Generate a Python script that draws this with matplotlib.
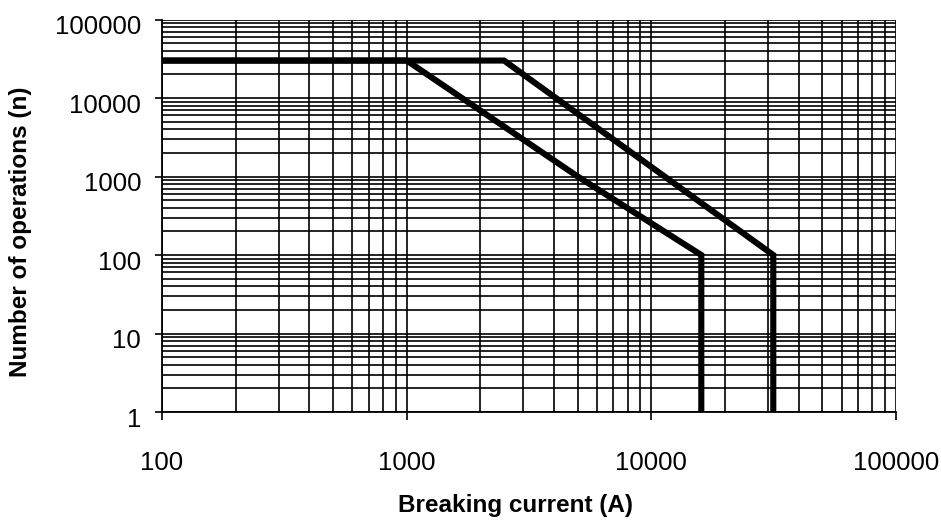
import numpy as np
import matplotlib
matplotlib.use("Agg")
import matplotlib.pyplot as plt
import matplotlib.transforms as mtransforms
from matplotlib.ticker import LogLocator, FixedLocator, NullFormatter

plt.rcParams['font.family'] = ['Liberation Sans', 'DejaVu Sans']

# breaker curves (current in A, number of operations)
curve_a_current = [100, 1000, 5000, 16000, 16000]
curve_a_ops = [30000, 30000, 1000, 100, 1]
curve_b_current = [100, 2500, 31500, 31500]
curve_b_ops = [30000, 30000, 100, 1]

x_ticks = [100, 1000, 10000, 100000]
y_ticks = [1, 10, 100, 1000, 10000, 100000]

fig = plt.figure(figsize=(9.41, 5.23), dpi=100)
ax = fig.add_axes([0.1722, 0.2122, 0.7800, 0.7505])

ax.set_xscale('log')
ax.set_yscale('log')
ax.set_xlim(100, 100000)
ax.set_ylim(1, 100000)

# grid first, curves on top
ax.xaxis.set_major_locator(FixedLocator(x_ticks))
ax.yaxis.set_major_locator(FixedLocator(y_ticks))
ax.xaxis.set_minor_locator(LogLocator(base=10, subs=np.arange(2, 10)))
ax.yaxis.set_minor_locator(LogLocator(base=10, subs=np.arange(2, 10)))
ax.xaxis.set_minor_formatter(NullFormatter())
ax.yaxis.set_minor_formatter(NullFormatter())
ax.set_xticklabels([str(v) for v in x_ticks])
ax.set_yticklabels([str(v) for v in y_ticks])
ax.grid(True, which='both', color='black', linewidth=1.2)
ax.set_axisbelow(True)

ax.plot(curve_a_current, curve_a_ops, color='black', linewidth=4.4,
        solid_joinstyle='miter', solid_capstyle='butt')
ax.plot(curve_b_current, curve_b_ops, color='black', linewidth=4.4,
        solid_joinstyle='miter', solid_capstyle='butt')

for s in ['top', 'right']:
    ax.spines[s].set_visible(False)
ax.spines['left'].set_linewidth(1.3)
ax.spines['bottom'].set_linewidth(1.3)

ax.tick_params(axis='x', which='major', length=6, width=1.2, pad=22, labelsize=18.5)
ax.tick_params(axis='y', which='major', length=5, width=1.2, pad=10, labelsize=18.5)
ax.tick_params(which='minor', length=0)

# excel puts the value labels a bit lower than the ticks
shift = mtransforms.ScaledTranslation(0, -5 / 100, fig.dpi_scale_trans)
for lab in ax.get_yticklabels():
    lab.set_transform(lab.get_transform() + shift)

ax.set_xlabel('Breaking current (A)', fontsize=17.5, fontweight='bold', va='center')
ax.set_ylabel('Number of operations (n)', fontsize=17.5, fontweight='bold', va='center')
ax.xaxis.set_label_coords(0.482, -0.237)
ax.yaxis.set_label_coords(-0.193, 0.46)

fig.savefig('out.png', dpi=100)
